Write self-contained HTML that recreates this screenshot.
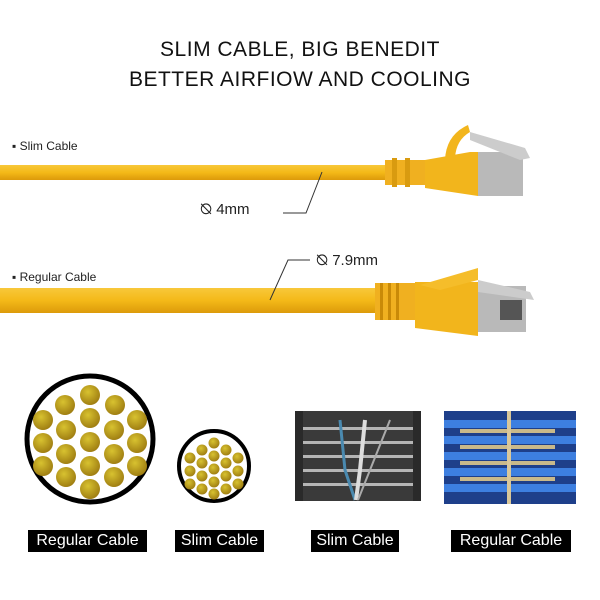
<!DOCTYPE html>
<html><head><style>
body{margin:0;width:600px;height:600px;background:#fff;position:relative;overflow:hidden;font-family:"Liberation Sans",sans-serif;}
.t{position:absolute;left:0;width:600px;text-align:center;font-size:21px;color:#111;letter-spacing:0.5px;}
.s{position:absolute;font-size:12px;color:#222;}
.lb{position:absolute;top:530px;height:22px;background:#000;color:#fff;font-size:16px;line-height:22px;text-align:center;}
</style></head><body>
<div class="t" style="top:38px">SLIM CABLE, BIG BENEDIT</div>
<div class="t" style="top:68px">BETTER AIRFIOW AND COOLING</div>
<div class="s" style="left:12px;top:139px">▪ Slim Cable</div>
<div class="s" style="left:12px;top:270px">▪ Regular Cable</div>
<div class="s" style="left:200px;top:201px;font-size:15px">⦰ 4mm</div>
<div class="s" style="left:316px;top:252px;font-size:15px">⦰ 7.9mm</div>
<svg width="600" height="600" style="position:absolute;left:0;top:0">
<defs>
<linearGradient id="y" x1="0" y1="0" x2="0" y2="1"><stop offset="0" stop-color="#f8c83a"/><stop offset="0.5" stop-color="#f4b918"/><stop offset="1" stop-color="#dc9a0a"/></linearGradient>
<radialGradient id="g" cx="0.4" cy="0.35" r="0.7"><stop offset="0" stop-color="#d8c230"/><stop offset="1" stop-color="#9c7a10"/></radialGradient>
</defs>
<rect x="0" y="165" width="395" height="15" fill="url(#y)"/>
<rect x="385" y="160" width="40" height="25" fill="#f0b020"/>
<rect x="392" y="158" width="5" height="29" fill="#d99b10"/><rect x="405" y="158" width="5" height="29" fill="#d99b10"/>
<path d="M425 160 L470 152 L478 152 L478 196 L425 188Z" fill="#f2b51c"/>
<path d="M445 160 Q446 135 468 125 L470 132 Q456 140 455 158Z" fill="#f2b51c"/>
<rect x="478" y="152" width="45" height="44" fill="#b9b9b9"/>
<path d="M470 132 L525 148 L530 158 L520 160 L470 140Z" fill="#ccc"/>
<rect x="0" y="288" width="385" height="25" fill="url(#y)"/>
<rect x="375" y="283" width="40" height="37" fill="#f0b020"/>
<rect x="380" y="283" width="3" height="37" fill="#c98a08"/><rect x="388" y="283" width="3" height="37" fill="#c98a08"/><rect x="396" y="283" width="3" height="37" fill="#c98a08"/>
<path d="M415 282 L478 282 L478 336 L415 328Z" fill="#f2b51c"/>
<path d="M420 285 L478 268 L478 280 L440 290Z" fill="#f5bd2a"/>
<rect x="478" y="286" width="48" height="46" fill="#b9b9b9"/>
<path d="M478 280 L530 292 L534 300 L478 292Z" fill="#ccc"/>
<rect x="500" y="300" width="22" height="20" fill="#555"/>
<polyline points="283,213 306,213 322,172" fill="none" stroke="#333" stroke-width="1"/>
<polyline points="310,260 288,260 270,300" fill="none" stroke="#333" stroke-width="1"/>
<circle cx="90" cy="439" r="63" fill="#fff" stroke="#000" stroke-width="5"/>
<g fill="url(#g)">
<circle cx="90" cy="395" r="10"/><circle cx="65" cy="405" r="10"/><circle cx="115" cy="405" r="10"/>
<circle cx="43" cy="420" r="10"/><circle cx="90" cy="418" r="10"/><circle cx="137" cy="420" r="10"/>
<circle cx="66" cy="430" r="10"/><circle cx="114" cy="430" r="10"/>
<circle cx="43" cy="443" r="10"/><circle cx="90" cy="442" r="10"/><circle cx="137" cy="443" r="10"/>
<circle cx="66" cy="454" r="10"/><circle cx="114" cy="454" r="10"/>
<circle cx="43" cy="466" r="10"/><circle cx="90" cy="466" r="10"/><circle cx="137" cy="466" r="10"/>
<circle cx="66" cy="477" r="10"/><circle cx="114" cy="477" r="10"/><circle cx="90" cy="489" r="10"/>
</g>
<circle cx="214" cy="466" r="35" fill="#fff" stroke="#000" stroke-width="4"/>
<g fill="url(#g)">
<circle cx="214" cy="443" r="5.5"/><circle cx="202" cy="450" r="5.5"/><circle cx="226" cy="450" r="5.5"/>
<circle cx="190" cy="458" r="5.5"/><circle cx="214" cy="456" r="5.5"/><circle cx="238" cy="458" r="5.5"/>
<circle cx="202" cy="463" r="5.5"/><circle cx="226" cy="463" r="5.5"/>
<circle cx="190" cy="471" r="5.5"/><circle cx="214" cy="469" r="5.5"/><circle cx="238" cy="471" r="5.5"/>
<circle cx="202" cy="476" r="5.5"/><circle cx="226" cy="476" r="5.5"/>
<circle cx="190" cy="484" r="5.5"/><circle cx="214" cy="482" r="5.5"/><circle cx="238" cy="484" r="5.5"/>
<circle cx="214" cy="494" r="5.5"/><circle cx="202" cy="489" r="5.5"/><circle cx="226" cy="489" r="5.5"/>
</g>
<rect x="295" y="411" width="126" height="90" fill="#2a2a2a"/>
<rect x="303" y="411" width="110" height="90" fill="#3a3a3a"/>
<g fill="#b5b5b5"><rect x="303" y="427" width="110" height="3"/><rect x="303" y="441" width="110" height="3"/><rect x="303" y="455" width="110" height="3"/><rect x="303" y="469" width="110" height="3"/><rect x="303" y="483" width="110" height="3"/></g>
<path d="M340 420 L345 470 L355 500" stroke="#4a8ab0" stroke-width="3" fill="none"/>
<path d="M365 420 L360 470 L356 500" stroke="#ddd" stroke-width="4" fill="none"/>
<path d="M390 420 L370 470 L358 500" stroke="#aaa" stroke-width="2" fill="none"/>
<rect x="444" y="411" width="132" height="93" fill="#1e3f8a"/>
<g fill="#3d7fe0"><rect x="444" y="420" width="132" height="8"/><rect x="444" y="436" width="132" height="8"/><rect x="444" y="452" width="132" height="8"/><rect x="444" y="468" width="132" height="8"/><rect x="444" y="484" width="132" height="8"/></g>
<g fill="#c9b98a"><rect x="460" y="429" width="95" height="4"/><rect x="460" y="445" width="95" height="4"/><rect x="460" y="461" width="95" height="4"/><rect x="460" y="477" width="95" height="4"/></g>
<rect x="507" y="411" width="4" height="93" fill="#d9c79a"/>
</svg>
<div class="lb" style="left:28px;width:119px">Regular Cable</div>
<div class="lb" style="left:175px;width:89px">Slim Cable</div>
<div class="lb" style="left:311px;width:88px">Slim Cable</div>
<div class="lb" style="left:451px;width:120px">Regular Cable</div>
</body></html>
